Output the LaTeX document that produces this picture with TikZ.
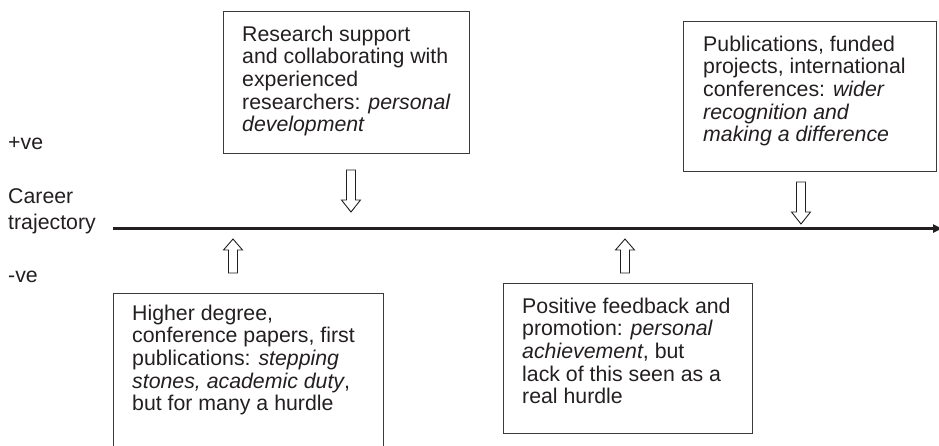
\documentclass[tikz,border=0pt]{standalone}
\usepackage{fontspec}
\setmainfont{Liberation Sans}
\usetikzlibrary{arrows.meta}
\definecolor{ink}{HTML}{231F20}
\definecolor{frame}{HTML}{3A3A3A}
\tikzset{
  box/.style={draw=frame, line width=1.3pt, anchor=north west, inner sep=0pt, fill=none},
  txt/.style={anchor=north west, inner sep=0pt, align=left, text=ink,
              font=\fontsize{21.3}{22.7}\selectfont},
  lbl/.style={anchor=base west, inner sep=0pt, text=ink,
              font=\fontsize{21.3}{22.7}\selectfont},
  axis/.style={draw=ink, line width=2.8pt, -{Triangle[length=9pt,width=8pt]}},
  hollow/.style={draw=ink, line width=0.9pt, fill=white, line join=miter},
  pics/downarr/.style={code={
    \path[hollow] (-4.5,0) -- (4.5,0) -- (4.5,30) -- (9.5,30) -- (0,42) -- (-9.5,30) -- (-4.5,30) -- cycle;
  }},
  pics/uparr/.style={code={
    \path[hollow] (-4.5,0) -- (4.5,0) -- (4.5,-23) -- (9.5,-23) -- (0,-34) -- (-9.5,-23) -- (-4.5,-23) -- cycle;
  }}
}
\begin{document}
\begin{tikzpicture}[x=1pt,y=-1pt]
\useasboundingbox (0,0) rectangle (939,445);

% boxes
\node[box, minimum width=246pt, minimum height=142pt] (box1) at (223,11) {};
\node[box, minimum width=253pt, minimum height=150pt] (box2) at (683,21) {};
\node[box, minimum width=270pt, minimum height=180pt] (box3) at (113,293) {};
\node[box, minimum width=249pt, minimum height=150pt] (box4) at (503,283) {};

% texts
\node[txt] (t1) at (242,25.1) {\strut Research support\\and collaborating with\\experienced\\researchers: \textit{personal}\\\textit{development}};
\node[txt] (t2) at (703,35.1) {\strut Publications, funded\\projects, international\\conferences: \textit{wider}\\\textit{recognition and}\\\textit{making a difference}};
\node[txt] (t3) at (132,304.1) {\strut Higher degree,\\conference papers, first\\publications: \textit{stepping}\\\textit{stones, academic duty},\\but for many a hurdle};
\node[txt] (t4) at (522,297.1) {\strut Positive feedback and\\promotion: \textit{personal}\\\textit{achievement}, but\\lack of this seen as a\\real hurdle};

% left labels
\node[lbl] (pos) at (8,149) {+ve};
\node[lbl] (car) at (8,203) {Career};
\node[lbl] (traj) at (8,229) {trajectory};
\node[lbl] (neg) at (8,282) {-ve};

% axis
\coordinate (axstart) at (113,228.5);
\coordinate (axend) at (942,228.5);
\draw[axis] (axstart) -- (axend);

% hollow block arrows
\pic at (351,170) {downarr};
\pic at (801,182) {downarr};
\pic at (233,273) {uparr};
\pic at (625,273) {uparr};
\end{tikzpicture}
\end{document}
